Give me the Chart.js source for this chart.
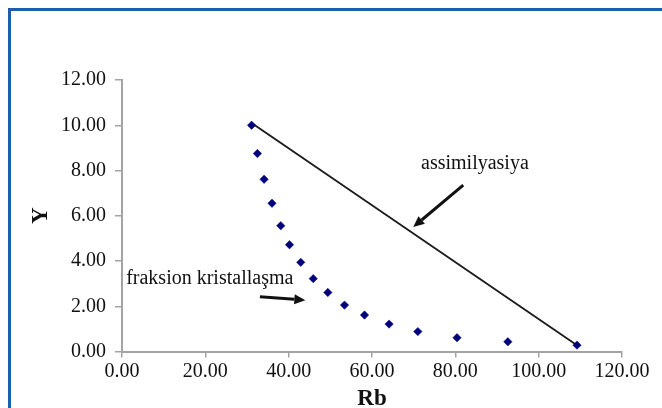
<!DOCTYPE html>
<html>
<head>
<meta charset="utf-8">
<script src="https://cdn.jsdelivr.net/npm/chart.js@4.4.1/dist/chart.umd.min.js"></script>
<style>
  html, body { margin: 0; padding: 0; background: #fff; overflow: hidden; }
  #wrap { position: relative; width: 662px; height: 408px; }
  #frame { position: absolute; left: 8px; top: 8px; right: -20px; bottom: -20px;
           border-left: 3px solid #1d5fa9; border-top: 3px solid #1d5fa9; }
  canvas { position: absolute; left: 0; top: 0; }
</style>
</head>
<body>
<div id="wrap">
  <div id="frame"></div>
  <canvas id="chart" width="662" height="408"></canvas>
</div>
<script>
// ── DATOS ─────────────────────────────────────────────
// fraksion kristallaşma (diamonds)
const rbFrak = [31.1, 32.5, 34.1, 36.0, 38.1, 40.2, 42.9, 45.9, 49.4, 53.4, 58.2, 64.1, 71.0, 80.4, 92.6, 109.2];
const yFrak  = [10.0, 8.75, 7.61, 6.55, 5.56, 4.72, 3.94, 3.22, 2.61, 2.05, 1.61, 1.21, 0.88, 0.61, 0.43, 0.28];
// assimilyasiya (straight line)
const rbAssim = [31.1, 109.2];
const yAssim  = [10.1, 0.28];

const xTicks = [0, 20, 40, 60, 80, 100, 120];
const yTicks = [0, 2, 4, 6, 8, 10, 12];

// annotation texts and arrows, in data units
const notes = [
  { text: 'assimilyasiya', x: 84.7, y: 8.3, align: 'center' },
  { text: 'fraksion kristallaşma', x: 1.0, y: 3.2, align: 'left' },
];
const arrows = [
  { from: [81.9, 7.35], to: [69.9, 5.5] },
  { from: [33.1, 2.42], to: [44.0, 2.27] },
];

const FONT = "'Liberation Serif', 'Times New Roman', serif";
const AXIS_COLOR = '#a3a3a3';

// ── PLUGIN: textos y flechas ──────────────────────────
const notasPlugin = {
  id: 'notas',
  afterDatasetsDraw(chart) {
    const { ctx, scales: { x, y } } = chart;
    ctx.save();
    ctx.fillStyle = '#111';
    ctx.font = `20px ${FONT}`;
    ctx.textBaseline = 'middle';
    notes.forEach(n => {
      ctx.textAlign = n.align;
      ctx.fillText(n.text, x.getPixelForValue(n.x), y.getPixelForValue(n.y));
    });
    arrows.forEach(a => {
      const x1 = x.getPixelForValue(a.from[0]), y1 = y.getPixelForValue(a.from[1]);
      const x2 = x.getPixelForValue(a.to[0]),   y2 = y.getPixelForValue(a.to[1]);
      const ang = Math.atan2(y2 - y1, x2 - x1);
      const head = 11, wing = 5;
      const bx = x2 - head * Math.cos(ang), by = y2 - head * Math.sin(ang);
      ctx.strokeStyle = '#111';
      ctx.lineWidth = 3;
      ctx.beginPath();
      ctx.moveTo(x1, y1);
      ctx.lineTo(bx, by);
      ctx.stroke();
      ctx.beginPath();
      ctx.moveTo(x2, y2);
      ctx.lineTo(bx + wing * Math.sin(ang), by - wing * Math.cos(ang));
      ctx.lineTo(bx - wing * Math.sin(ang), by + wing * Math.cos(ang));
      ctx.closePath();
      ctx.fill();
    });
    ctx.restore();
  }
};

// ── GRÁFICO ───────────────────────────────────────────
new Chart(document.getElementById('chart'), {
  type: 'scatter',
  data: {
    datasets: [
      {
        label: 'assimilyasiya',
        data: rbAssim.map((v, i) => ({ x: v, y: yAssim[i] })),
        showLine: true,
        borderColor: '#1a1a1a',
        borderWidth: 1.8,
        pointRadius: 0,
        order: 2,
      },
      {
        label: 'fraksion kristallaşma',
        data: rbFrak.map((v, i) => ({ x: v, y: yFrak[i] })),
        pointStyle: 'rectRot',
        pointRadius: 4.2,
        backgroundColor: '#00007a',
        borderColor: '#00007a',
        borderWidth: 0.5,
        order: 1,
      },
    ]
  },
  options: {
    responsive: false,
    animation: false,
    layout: { padding: { top: 80, right: 40, left: 0, bottom: 0 } },
    plugins: { legend: { display: false }, tooltip: { enabled: false } },
    scales: {
      x: {
        type: 'linear', min: 0, max: 120,
        afterBuildTicks: s => { s.ticks = xTicks.map(v => ({ value: v })); },
        afterFit: s => { s.height = 56.5; },
        ticks: { color: '#111', padding: 2, font: { family: FONT, size: 20 }, callback: v => v.toFixed(2) },
        grid: { drawOnChartArea: false, tickLength: 6, color: AXIS_COLOR, lineWidth: 1.5 },
        border: { color: AXIS_COLOR, width: 2 },
        title: { display: true, text: 'Rb', color: '#111', padding: { top: 0, bottom: -5 },
                 font: { family: FONT, size: 23, weight: 'bold' } },
      },
      y: {
        type: 'linear', min: 0, max: 12,
        afterBuildTicks: s => { s.ticks = yTicks.map(v => ({ value: v })); },
        afterFit: s => { s.width = 122; },
        ticks: { color: '#111', padding: 9, font: { family: FONT, size: 20 }, callback: v => v.toFixed(2) },
        grid: { drawOnChartArea: false, tickLength: 7, color: AXIS_COLOR, lineWidth: 1.5 },
        border: { color: AXIS_COLOR, width: 2 },
        title: { display: true, text: 'Y', color: '#111', padding: { top: 27, bottom: 0 },
                 font: { family: FONT, size: 23, weight: 'bold' } },
      }
    }
  },
  plugins: [notasPlugin]
});
</script>
</body>
</html>
